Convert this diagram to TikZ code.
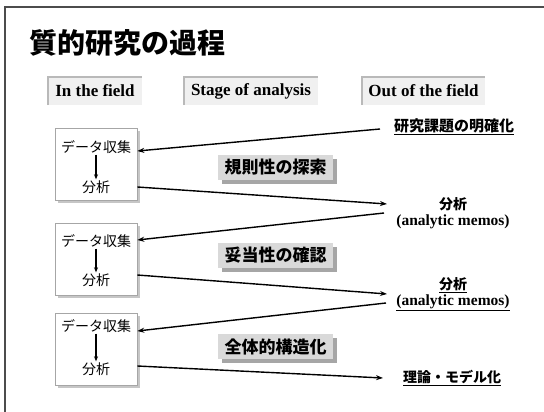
\documentclass[tikz,border=0pt]{standalone}
\usepackage{fontspec}
\setmainfont{Liberation Serif}
\newfontfamily\jp{Noto Sans CJK JP}
\usetikzlibrary{arrows.meta,shadows}
\begin{document}
\begin{tikzpicture}[x=1pt,y=-1pt,
  hdr/.style={fill=gray!12, minimum height=28pt, inner sep=0pt, font=\fontsize{17}{19}\selectfont\bfseries},
  stg/.style={fill=gray!30, minimum width=115pt, minimum height=25pt, inner sep=0pt,
    font=\jp\bfseries\fontsize{17}{19}\selectfont,
    drop shadow={shadow xshift=4pt, shadow yshift=-4pt, fill=gray!70, opacity=1}},
  fieldbox/.style={draw=gray!70, fill=white, minimum width=82pt, minimum height=72pt, inner sep=0pt, line width=0.6pt,
    drop shadow={shadow xshift=3pt, shadow yshift=-3pt, fill=gray!45, opacity=1}},
  btxt/.style={font=\jp\fontsize{14}{16}\selectfont, inner sep=1pt},
  rtxt/.style={font=\jp\bfseries\fontsize{14}{16}\selectfont, inner sep=1pt},
  etxt/.style={font=\bfseries\fontsize{15.5}{17}\selectfont, inner sep=1pt},
  con/.style={line width=1.4pt, -{Stealth[length=7pt,width=5pt]}},
  inarrow/.style={line width=1.3pt, -{Stealth[length=5pt,width=4pt]}},
]
\useasboundingbox (0,0) rectangle (544,412);
% frame
\draw[line width=1.5pt, gray!60!black] (5,412) -- (5,7) -- (544,7);
% title
\node[anchor=west, inner sep=0pt, font=\jp\bfseries\fontsize{28}{30}\selectfont] (title) at (29,43) {質的研究の過程};
% headers
\node[hdr, minimum width=94pt] (h1) at (95,91) {In the field};
\node[hdr, minimum width=133pt] (h2) at (251,91) {Stage of analysis};
\node[hdr, minimum width=123pt] (h3) at (423.5,91) {Out of the field};
\foreach \h in {h1,h2,h3}
  \draw[gray!55, line width=2pt] (\h.south west) -- (\h.north west) -- (\h.north east);
% field boxes
\node[fieldbox] (b1) at (96,164) {};
\node[fieldbox] (b2) at (96,259) {};
\node[fieldbox] (b3) at (96,349) {};
\node[btxt] (d1) at (96,147) {データ収集};
\node[btxt] (a1) at (96,187) {分析};
\node[btxt] (d2) at (96,241) {データ収集};
\node[btxt] (a2) at (96,280) {分析};
\node[btxt] (d3) at (96,326) {データ収集};
\node[btxt] (a3) at (96,369) {分析};
\draw[inarrow] (d1.south) -- (a1.north);
\draw[inarrow] (d2.south) -- (a2.north);
\draw[inarrow] (d3.south) -- (a3.north);
% stage boxes
\node[stg] (s1) at (275.5,167.5) {規則性の探索};
\node[stg] (s2) at (275.5,255.5) {妥当性の確認};
\node[stg] (s3) at (275.5,346.5) {全体的構造化};
% right texts
\node[rtxt, font=\jp\bfseries\fontsize{15}{17}\selectfont] (r1) at (454,127) {\underline{研究課題の明確化}};
\node[rtxt] (m1a) at (453,204) {分析};
\node[etxt] (m1b) at (453,222) {(analytic memos)};
\node[rtxt] (m2a) at (453,285) {\underline{分析}};
\node[etxt] (m2b) at (453,303) {\underline{(analytic memos)}};
\node[rtxt] (r3) at (452,378) {\underline{理論・モデル化}};
% connector ends
\coordinate (p1) at (380,129);
\coordinate (p2) at (387,204);
\coordinate (p3) at (384,213);
\coordinate (p4) at (387,294);
\coordinate (p5) at (386,303);
\coordinate (p6) at (383,378);
% connectors
\draw[con] (p1) -- ([yshift=13pt]b1.east);
\draw[con] ([yshift=-23pt]b1.east) -- (p2);
\draw[con] (p3) -- ([yshift=19pt]b2.east);
\draw[con] ([yshift=-16pt]b2.east) -- (p4);
\draw[con] (p5) -- ([yshift=18pt]b3.east);
\draw[con] ([yshift=-17pt]b3.east) -- (p6);
\end{tikzpicture}
\end{document}
